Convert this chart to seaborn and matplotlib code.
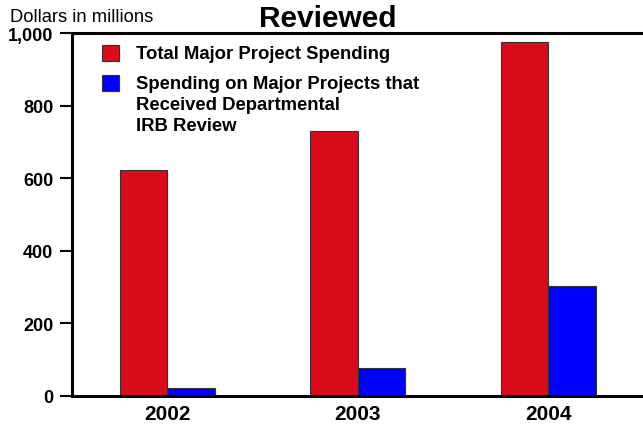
import pandas as pd
import seaborn as sns
import matplotlib.pyplot as plt
from matplotlib.patches import Patch

# --- Data (dollars in millions) ---
years = ["2002", "2003", "2004"]
total_spending = [623, 729, 976]
reviewed_spending = [22, 78, 304]
series_names = ["Total Major Project Spending",
                "Spending on Major Projects that\nReceived Departmental\nIRB Review"]
colors = ["#DC0B19", "#0000FF"]
y_ticks = [0, 200, 400, 600, 800, 1000]

df = pd.DataFrame({
    "Year": years * 2,
    "Spending": total_spending + reviewed_spending,
    "Series": [series_names[0]] * 3 + [series_names[1]] * 3,
})

sns.set_style("white")
plt.rcParams['font.family'] = ['Liberation Sans', 'DejaVu Sans']
plt.rcParams['text.color'] = 'black'
plt.rcParams['xtick.color'] = 'black'
plt.rcParams['ytick.color'] = 'black'

fig = plt.figure(figsize=(6.43, 4.27), dpi=100)
ax = fig.add_axes([0.112, 0.0703, 0.895, 0.8497])

sns.barplot(data=df, x="Year", y="Spending", hue="Series", order=years,
            hue_order=series_names, palette=colors, saturation=1, width=0.5, dodge=True,
            edgecolor="#333333", linewidth=0.8, ax=ax, legend=False)

ax.set_ylim(0, 1000)
ax.set_xlim(-0.5, 2.52)
ax.set_yticks(y_ticks)
ax.set_yticklabels([f"{v:,}" for v in y_ticks], fontsize=13, fontweight="bold")
ax.set_xticks(range(len(years)))
ax.set_xticklabels(years, fontsize=15, fontweight="bold")
ax.set_xlabel("")
ax.set_ylabel("")
ax.tick_params(axis="y", direction="out", length=9, width=1.5, pad=4.5, left=True)
ax.tick_params(axis="x", length=0, pad=5.5)

for side in ["left", "top", "bottom"]:
    ax.spines[side].set_linewidth(2.2)
    ax.spines[side].set_color("black")
ax.spines["right"].set_visible(False)

handles = [Patch(facecolor=c, edgecolor="#333333", linewidth=0.8) for c in colors]
leg = ax.legend(handles, series_names, loc="upper left", bbox_to_anchor=(0.052, 0.967),
                frameon=False, prop={"weight": "bold", "size": 13.3},
                handlelength=0.92, handleheight=0.92, handletextpad=0.9,
                labelspacing=0.7, borderaxespad=0, borderpad=0)
for t in leg.get_texts():
    t.set_linespacing(1.3)
# align each legend square with the first line of its label
for row in leg._legend_handle_box.get_children():
    for pack in row.get_children():
        pack.align = "top"

fig.text(10 / 643, 1 - 22 / 427, "Dollars in millions", fontsize=13.2, ha="left", va="baseline")
fig.text(328 / 643, 1 - 27 / 427, "Reviewed", fontsize=21.5, fontweight="bold",
         ha="center", va="baseline")

plt.savefig("out.png", dpi=100)
